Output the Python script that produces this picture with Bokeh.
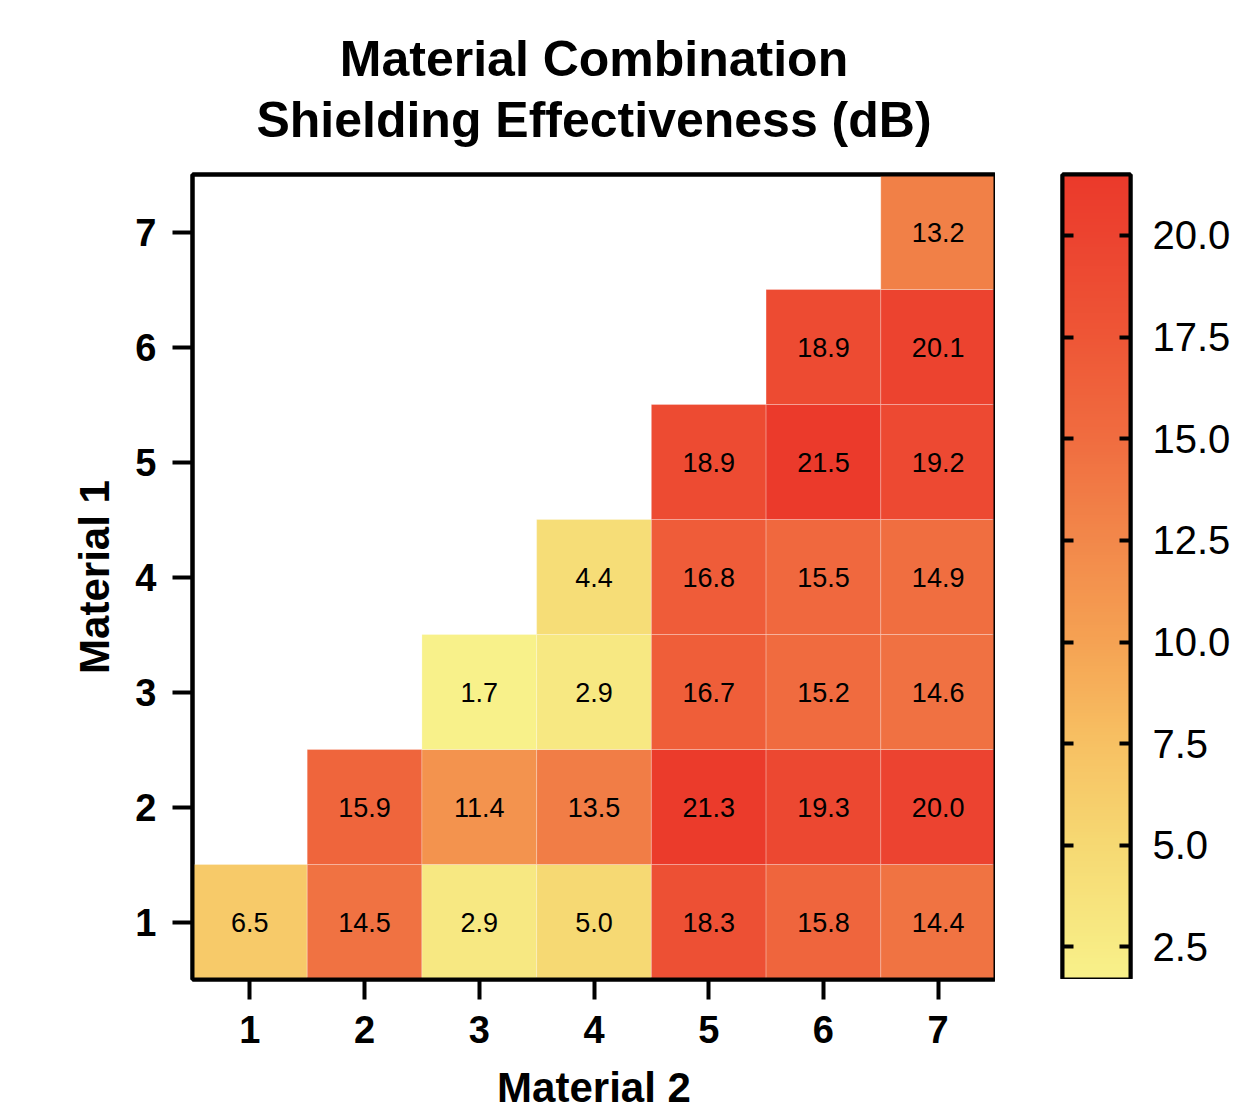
import numpy as np
from bokeh.plotting import figure
from bokeh.models import (ColumnDataSource, LinearColorMapper, FixedTicker,
                          NumeralTickFormatter, LinearAxis, Range1d, Title)
from bokeh.layouts import row
from bokeh.embed import file_html
from bokeh.resources import INLINE
from bokeh.transform import transform
from bokeh.core.properties import value

# ---------------- data ----------------
materials = [1, 2, 3, 4, 5, 6, 7]
# Upper-triangular matrix: row = Material 1, values for Material 2 = row..7
se_m1_1 = [6.5, 14.5, 2.9, 5.0, 18.3, 15.8, 14.4]
se_m1_2 = [15.9, 11.4, 13.5, 21.3, 19.3, 20.0]
se_m1_3 = [1.7, 2.9, 16.7, 15.2, 14.6]
se_m1_4 = [4.4, 16.8, 15.5, 14.9]
se_m1_5 = [18.9, 21.5, 19.2]
se_m1_6 = [18.9, 20.1]
se_m1_7 = [13.2]
rows = [se_m1_1, se_m1_2, se_m1_3, se_m1_4, se_m1_5, se_m1_6, se_m1_7]
cb_ticks = [2.5, 5.0, 7.5, 10.0, 12.5, 15.0, 17.5, 20.0]
cb_low, cb_high = 1.7, 21.5
title_line1 = "Material Combination"
title_line2 = "Shielding Effectiveness (dB)"

xs, ys, vs = [], [], []
for i, vals in enumerate(rows):
    m1 = materials[i]
    for j, v in enumerate(vals):
        xs.append(materials[i + j])
        ys.append(m1)
        vs.append(v)
src = ColumnDataSource(dict(x=xs, y=ys, v=vs, label=[f"{v:.1f}" for v in vs]))

# ---------------- palette (yellow -> orange -> red) ----------------
anchor_pos = np.array([0.0, 0.17, 0.30, 0.42, 0.55, 0.67, 0.80, 0.92, 1.0])
anchor_rgb = np.array([
    [248, 241, 138], [246, 216, 114], [247, 191, 98], [245, 162, 83],
    [242, 135, 74], [240, 109, 64], [238, 86, 54], [236, 68, 48], [235, 58, 43]])
t = np.linspace(0, 1, 256)
palette = []
for tt in t:
    rgb = [int(round(np.interp(tt, anchor_pos, anchor_rgb[:, k]))) for k in range(3)]
    palette.append("#%02x%02x%02x" % tuple(rgb))
mapper = LinearColorMapper(palette=palette, low=cb_low, high=cb_high)

FONT = "Liberation Sans"


def frame_edge_axis():
    """An axis with no ticks, used only to draw a frame edge line over the glyphs."""
    return LinearAxis(ticker=FixedTicker(ticks=[]), major_tick_in=0, major_tick_out=0,
                      minor_tick_line_color=None, major_label_standoff=0,
                      axis_line_width=4, axis_line_color="black")


# ---------------- main heatmap ----------------
p = figure(x_range=Range1d(0.5, 7.5), y_range=Range1d(0.5, 7.5),
           frame_width=803, frame_height=805,
           min_border_left=192, min_border_right=0, min_border_top=174, min_border_bottom=0,
           output_backend="svg", toolbar_location=None)
p.rect(x="x", y="y", width=1, height=1, source=src,
       fill_color=transform("v", mapper), line_color="white", line_alpha=0.25, line_width=1)
p.text(x="x", y="y", text="label", source=src, text_align="center", text_baseline="middle",
       text_font_size="27px", text_font=value(FONT), text_color="black")

p.grid.visible = False
p.outline_line_color = "black"
p.outline_line_width = 4
p.outline_line_alpha = 1.0

xa = p.below[0]
ya = p.left[0]
for ax in (xa, ya):
    ax.ticker = FixedTicker(ticks=materials)
    ax.major_label_text_font = FONT
    ax.major_label_text_font_size = "38px"
    ax.major_label_text_font_style = "bold"
    ax.major_label_text_color = "black"
    ax.major_tick_out = 20
    ax.major_tick_in = 0
    ax.major_tick_line_width = 4
    ax.major_tick_line_color = "black"
    ax.minor_tick_line_color = None
    ax.axis_line_width = 4
    ax.axis_line_color = "black"
    ax.axis_label_text_font = FONT
    ax.axis_label_text_font_size = "42px"
    ax.axis_label_text_font_style = "bold"
    ax.axis_label_text_color = "black"
    ax.major_label_standoff = 16
xa.axis_label = "Material 2"
ya.axis_label = "Material 1"
xa.axis_label_standoff = 18
ya.axis_label_standoff = 14

# stacked above the frame (nearest first): edge line, gap, title line 2, title line 1
p.add_layout(frame_edge_axis(), "above")
p.add_layout(frame_edge_axis(), "right")
p.add_layout(Title(text=" ", text_font_size="1px", standoff=24), "above")
p.add_layout(Title(text=title_line2, text_font=FONT, text_font_size="50px",
                   text_font_style="bold", text_color="black", align="center",
                   standoff=0), "above")
p.title.text = title_line1
p.title.text_font = FONT
p.title.text_font_size = "50px"
p.title.text_font_style = "bold"
p.title.text_color = "black"
p.title.align = "center"
p.title.standoff = 6

# ---------------- colorbar ----------------
cb = figure(x_range=Range1d(0, 1), y_range=Range1d(cb_low, cb_high),
            frame_width=68, frame_height=805,
            min_border_left=67, min_border_right=0, min_border_top=174, min_border_bottom=0,
            y_axis_location="right", output_backend="svg", toolbar_location=None)
grad = np.linspace(cb_low, cb_high, 512).reshape(-1, 1)
cb.image(image=[grad], x=0, y=cb_low, dw=1, dh=cb_high - cb_low, color_mapper=mapper)
cb.grid.visible = False
cb.xaxis.visible = False
cb.outline_line_color = "black"
cb.outline_line_width = 4
cb.outline_line_alpha = 1.0
ry = cb.right[0]
ry.ticker = FixedTicker(ticks=cb_ticks)
ry.formatter = NumeralTickFormatter(format="0.0")
ry.major_tick_in = 11
ry.major_tick_out = 0
ry.major_tick_line_width = 4
ry.major_tick_line_color = "black"
ry.minor_tick_line_color = None
ry.axis_line_width = 4
ry.axis_line_color = "black"
ry.major_label_text_font = FONT
ry.major_label_text_font_size = "40px"
ry.major_label_text_color = "black"
ry.major_label_standoff = 22
# left edge: tick marks only (drawn as minor ticks so no labels are produced)
la = LinearAxis(ticker=FixedTicker(ticks=[], minor_ticks=cb_ticks),
                major_tick_in=0, major_tick_out=0,
                minor_tick_in=11, minor_tick_out=0, minor_tick_line_width=4,
                minor_tick_line_color="black", axis_line_width=4, axis_line_color="black",
                major_label_standoff=0)
cb.add_layout(la, "left")
cb.add_layout(frame_edge_axis(), "above")
cb.add_layout(frame_edge_axis(), "below")

layout = row(p, cb)
open("out.html", "w").write(file_html(layout, INLINE))
